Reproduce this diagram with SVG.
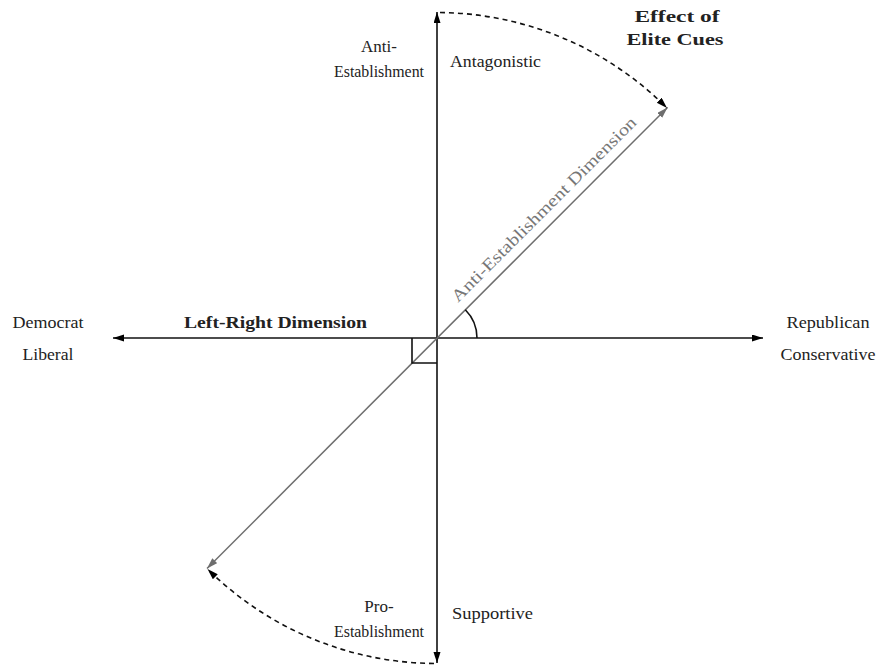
<svg xmlns="http://www.w3.org/2000/svg" width="876" height="665" viewBox="0 0 876 665">
<defs>
<marker id="ab" markerUnits="userSpaceOnUse" markerWidth="12" markerHeight="8" refX="11" refY="3.5" orient="auto-start-reverse" viewBox="0 0 12 8"><path d="M0,0 L11,3.5 L0,7 Z" fill="#000"/></marker>
<marker id="ag" markerUnits="userSpaceOnUse" markerWidth="12" markerHeight="8" refX="11" refY="3.5" orient="auto-start-reverse" viewBox="0 0 12 8"><path d="M0,0 L11,3.5 L0,7 Z" fill="#6e6e6e"/></marker>
</defs>
<style>
text{font-family:"Liberation Serif","DejaVu Serif",serif;font-size:17px;fill:#222}
.b{font-weight:bold}
.axis{stroke:#111;stroke-width:1.6;fill:none}
.diag{stroke:#6e6e6e;stroke-width:1.5;fill:none}
.dash{stroke:#111;stroke-width:1.6;fill:none;stroke-dasharray:5 4}
</style>
<rect width="876" height="665" fill="#fff"/>
<g id="connectors">
<line id="vert-axis" class="axis" x1="437" y1="663" x2="437" y2="12" marker-start="url(#ab)" marker-end="url(#ab)"/>
<line id="horiz-axis" class="axis" x1="113" y1="338" x2="763" y2="338" marker-start="url(#ab)" marker-end="url(#ab)"/>
<line id="diag-axis" class="diag" x1="207" y1="568.5" x2="667.5" y2="107.5" marker-start="url(#ag)" marker-end="url(#ag)"/>
<path id="right-angle" class="axis" d="M412,338 L412,363 L437,363"/>
<path id="angle-arc" class="axis" d="M477,338 A40,40 0 0 0 465.3,309.7"/>
<path id="cue-top" class="dash" d="M440,12.5 A326,326 0 0 1 667,108" marker-end="url(#ab)"/>
<path id="cue-bottom" class="dash" d="M434,663.5 A326,326 0 0 1 207.5,569" marker-end="url(#ab)"/>
</g>
<g id="label-anti">
<text x="379" y="52" text-anchor="middle">Anti-</text>
<text x="379" y="77" text-anchor="middle" textLength="90" lengthAdjust="spacingAndGlyphs">Establishment</text>
</g>
<g id="label-antagonistic"><text x="450" y="67" textLength="91" lengthAdjust="spacingAndGlyphs">Antagonistic</text></g>
<g id="label-effect">
<text class="b" x="677" y="22" text-anchor="middle" textLength="85" lengthAdjust="spacingAndGlyphs">Effect of</text>
<text class="b" x="675" y="45" text-anchor="middle" textLength="97" lengthAdjust="spacingAndGlyphs">Elite Cues</text>
</g>
<g id="label-democrat">
<text x="48" y="328" text-anchor="middle" textLength="71" lengthAdjust="spacingAndGlyphs">Democrat</text>
<text x="48" y="360" text-anchor="middle" textLength="51" lengthAdjust="spacingAndGlyphs">Liberal</text>
</g>
<g id="label-leftright"><text class="b" x="184" y="328" textLength="183" lengthAdjust="spacingAndGlyphs">Left-Right Dimension</text></g>
<g id="label-republican">
<text x="828" y="328" text-anchor="middle" textLength="83" lengthAdjust="spacingAndGlyphs">Republican</text>
<text x="828" y="360" text-anchor="middle" textLength="95" lengthAdjust="spacingAndGlyphs">Conservative</text>
</g>
<g id="label-pro">
<text x="379" y="612" text-anchor="middle">Pro-</text>
<text x="379" y="637" text-anchor="middle" textLength="90" lengthAdjust="spacingAndGlyphs">Establishment</text>
</g>
<g id="label-supportive"><text x="452" y="619" textLength="81" lengthAdjust="spacingAndGlyphs">Supportive</text></g>
<g id="label-antidim"><text transform="translate(458,303) rotate(-45)" style="fill:#777" textLength="254" lengthAdjust="spacingAndGlyphs">Anti-Establishment Dimension</text></g>
</svg>
